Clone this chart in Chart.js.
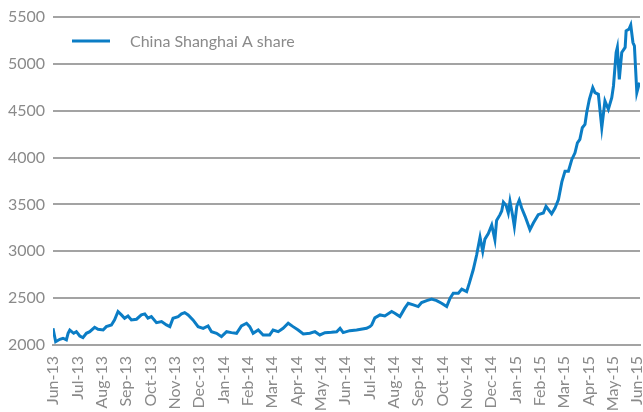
<!DOCTYPE html>
<html>
<head>
<meta charset="utf-8">
<script src="https://cdn.jsdelivr.net/npm/chart.js@4/dist/chart.umd.min.js"></script>
<style>
  html, body { margin: 0; padding: 0; background: #fff; }
  #wrap { width: 643px; height: 412px; }
</style>
</head>
<body>
<div id="wrap"><canvas id="line-chart"></canvas></div>
<script>
// month tick labels (tick 0 = Jun-13)
var monthLabels = ['Jun-13', 'Jul-13', 'Aug-13', 'Sep-13', 'Oct-13', 'Nov-13', 'Dec-13',
  'Jan-14', 'Feb-14', 'Mar-14', 'Apr-14', 'May-14', 'Jun-14', 'Jul-14', 'Aug-14', 'Sep-14',
  'Oct-14', 'Nov-14', 'Dec-14', 'Jan-15', 'Feb-15', 'Mar-15', 'Apr-15', 'May-15', 'Jun-15'];

// position in months since Jun-13
var monthPos = [0.00, 0.11, 0.28, 0.41, 0.55, 0.62, 0.69, 0.85, 0.96, 1.10, 1.23, 1.37, 1.51, 1.71, 1.85,
  2.06, 2.19, 2.40, 2.53, 2.67, 2.81, 2.94, 3.08, 3.22, 3.43, 3.63, 3.77, 3.90, 4.04, 4.25, 4.46,
  4.66, 4.80, 4.93, 5.14, 5.28, 5.41, 5.55, 5.75, 5.96, 6.17, 6.37, 6.51, 6.72, 6.92, 7.13, 7.33,
  7.54, 7.74, 7.95, 8.08, 8.22, 8.43, 8.63, 8.90, 9.04, 9.25, 9.45, 9.66, 9.86, 10.07, 10.28, 10.55,
  10.76, 10.96, 11.17, 11.44, 11.65, 11.79, 11.92, 12.19, 12.47, 12.88, 13.02, 13.09, 13.22, 13.43,
  13.63, 13.91, 14.04, 14.25, 14.45, 14.59, 14.80, 15.00, 15.14, 15.35, 15.55, 15.76, 15.96, 16.17,
  16.31, 16.44, 16.65, 16.79, 16.99, 17.10, 17.26, 17.40, 17.54, 17.65, 17.74, 17.88, 18.02, 18.15,
  18.22, 18.36, 18.43, 18.50, 18.61, 18.70, 18.77, 18.88, 18.95, 19.05, 19.15, 19.25, 19.39, 19.59,
  19.73, 19.93, 20.14, 20.25, 20.35, 20.48, 20.62, 20.76, 20.90, 21.03, 21.17, 21.31, 21.44, 21.54,
  21.64, 21.74, 21.85, 21.92, 22.03, 22.17, 22.26, 22.40, 22.54, 22.67, 22.81, 22.95, 23.02, 23.13,
  23.18, 23.26, 23.36, 23.50, 23.54, 23.66, 23.73, 23.82, 23.88, 23.98, 24.09];

// China Shanghai A share index
var shareIndex = [2178, 2035, 2061, 2072, 2054, 2125, 2160, 2125, 2142, 2096, 2078, 2125, 2142, 2189, 2168,
  2160, 2196, 2214, 2268, 2357, 2321, 2286, 2310, 2268, 2275, 2321, 2332, 2286, 2303, 2239, 2250,
  2214, 2196, 2286, 2303, 2332, 2346, 2321, 2268, 2196, 2178, 2203, 2142, 2125, 2089, 2142, 2132,
  2125, 2203, 2232, 2196, 2125, 2160, 2107, 2107, 2160, 2142, 2178, 2232, 2196, 2160, 2118, 2125,
  2142, 2107, 2132, 2136, 2142, 2178, 2132, 2153, 2160, 2178, 2196, 2214, 2290, 2321,
  2310, 2357, 2339, 2303, 2393, 2446, 2428, 2410, 2453, 2474, 2489, 2474, 2446, 2410,
  2500, 2553, 2553, 2596, 2570, 2660, 2803, 2960, 3150, 3000, 3130, 3190, 3280, 3124,
  3330, 3391, 3430, 3525, 3490, 3409, 3533, 3380, 3266, 3480, 3545, 3462, 3373, 3231,
  3302, 3391, 3409, 3480, 3445, 3400, 3462, 3551, 3740, 3855, 3855, 3980, 4051, 4158,
  4194, 4319, 4354, 4479, 4622, 4746, 4693, 4675, 4319, 4604, 4515, 4640, 4764, 5121,
  5175, 4835, 5121, 5175, 5353, 5371, 5414, 5228, 5193, 4693, 4800];

var yTicks = [2000, 2500, 3000, 3500, 4000, 4500, 5000, 5500];

var points = monthPos.map(function(m, i) { return { x: m, y: shareIndex[i] }; });

var labelGrey = '#8a8a8a';
var gridGrey = '#a3a3a3';

// legend drawn inside the plot, top-left
var insideLegend = {
  id: 'insideLegend',
  afterDraw: function(chart) {
    var ctx = chart.ctx, area = chart.chartArea;
    var ds = chart.data.datasets[0];
    var x = area.left + 19, y = area.top + 24;
    ctx.save();
    ctx.strokeStyle = ds.borderColor;
    ctx.lineWidth = 3;
    ctx.beginPath();
    ctx.moveTo(x, y);
    ctx.lineTo(x + 38, y);
    ctx.stroke();
    ctx.fillStyle = labelGrey;
    ctx.font = '16px Lato';
    ctx.textBaseline = 'middle';
    ctx.fillText(ds.label, x + 58, y + 1);
    ctx.restore();
  }
};

new Chart(document.getElementById('line-chart'), {
  type: 'line',
  data: {
    datasets: [{
      label: 'China Shanghai A share',
      data: points,
      borderColor: '#0b7dc5',
      borderWidth: 3,
      pointRadius: 0,
      tension: 0,
      fill: false
    }]
  },
  options: {
    responsive: true,
    maintainAspectRatio: false,
    animation: false,
    layout: { padding: { top: 17, right: 3, left: 0, bottom: 0 } },
    plugins: {
      legend: { display: false },
      tooltip: { enabled: false }
    },
    scales: {
      x: {
        type: 'linear',
        min: 0,
        max: 24.11,
        afterBuildTicks: function(scale) {
          scale.ticks = monthLabels.map(function(l, i) { return { value: i }; });
        },
        afterFit: function(scale) {
          scale.height = 67;
          scale.paddingLeft = 0;
          scale.paddingRight = 0;
        },
        grid: { display: false, drawTicks: false },
        border: { display: true, color: gridGrey, width: 2 },
        ticks: {
          autoSkip: false,
          minRotation: 90,
          maxRotation: 90,
          padding: 11,
          color: labelGrey,
          font: { family: 'Lato', size: 16 },
          callback: function(v) { return monthLabels[v]; }
        }
      },
      y: {
        min: 2000,
        max: 5500,
        afterBuildTicks: function(scale) {
          scale.ticks = yTicks.map(function(v) { return { value: v }; });
        },
        afterFit: function(scale) {
          scale.width = 53;
          scale.paddingTop = 0;
          scale.paddingBottom = 0;
        },
        grid: { color: gridGrey, lineWidth: 2, drawTicks: false },
        border: { display: false },
        ticks: {
          padding: 8,
          color: labelGrey,
          font: { family: 'Lato', size: 16 },
          callback: function(v) { return String(v); }
        }
      }
    }
  },
  plugins: [insideLegend]
});
</script>
</body>
</html>
